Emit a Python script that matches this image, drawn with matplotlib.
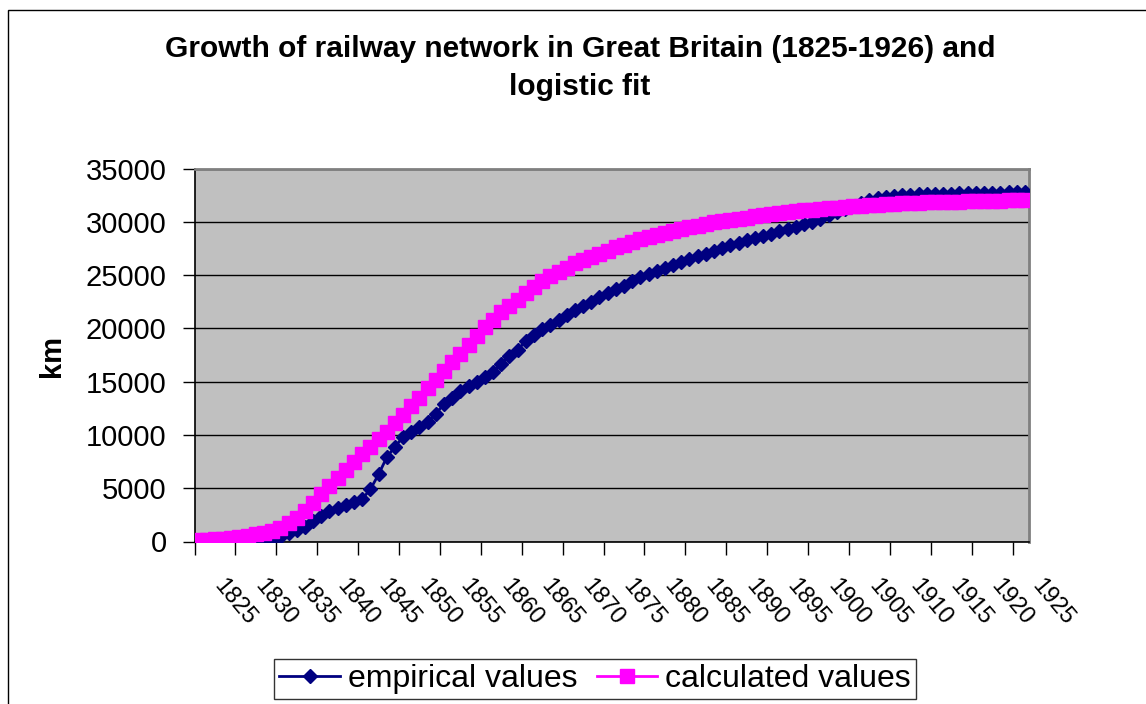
import numpy as np
import matplotlib
matplotlib.use("Agg")
import matplotlib.pyplot as plt
import matplotlib.transforms as mtransforms
from matplotlib.patches import Rectangle

#data (km)
years = list(range(1825, 1927))
empirical = [
    40, 45, 50, 55, 60, 70, 80, 90, 110, 250,          # 1825-1834
    430, 800, 1100, 1400, 1900, 2400, 2850, 3150, 3400, 3700,   # 1835-1844
    4000, 4900, 6300, 7900, 8900, 9800, 10300, 10700, 11200, 12000,  # 1845-1854
    12900, 13500, 14100, 14600, 15000, 15400, 15900, 16700, 17400, 18000,  # 1855-1864
    18800, 19400, 19900, 20300, 20800, 21300, 21700, 22100, 22500, 22900,  # 1865-1874
    23300, 23700, 24000, 24400, 24800, 25100, 25400, 25700, 25950, 26200,  # 1875-1884
    26500, 26750, 27000, 27250, 27500, 27800, 28000, 28250, 28450, 28700,  # 1885-1894
    28900, 29100, 29350, 29550, 29800, 30000, 30300, 30600, 30900, 31200,  # 1895-1904
    31500, 31800, 32000, 32200, 32300, 32400, 32500, 32550, 32600, 32600,  # 1905-1914
    32620, 32640, 32650, 32660, 32680, 32700, 32710, 32720, 32740, 32760,  # 1915-1924
    32780, 32800,                                       # 1925-1926
]
calculated = [
    100, 150, 200, 250, 320, 400, 520, 660, 830, 1030,   # 1825-1834
    1300, 1700, 2200, 2850, 3600, 4450, 5200, 5950, 6700, 7450,  # 1835-1844
    8200, 8900, 9600, 10300, 11100, 11900, 12700, 13500, 14400, 15200,  # 1845-1854
    16000, 16800, 17600, 18400, 19300, 20100, 20800, 21500, 22100, 22700,  # 1855-1864
    23300, 23900, 24400, 24900, 25300, 25700, 26100, 26400, 26700, 27000,  # 1865-1874
    27300, 27600, 27850, 28100, 28350, 28550, 28750, 28950, 29150, 29350,  # 1875-1884
    29500, 29650, 29800, 29950, 30100, 30200, 30300, 30400, 30500, 30600,  # 1885-1894
    30700, 30800, 30900, 30980, 31060, 31140, 31210, 31280, 31340, 31400,  # 1895-1904
    31450, 31500, 31550, 31600, 31640, 31680, 31720, 31750, 31780, 31810,  # 1905-1914
    31840, 31860, 31880, 31900, 31920, 31940, 31955, 31970, 31985, 32000,  # 1915-1924
    32010, 32020,                                       # 1925-1926
]
tick_labels = [str(y) for y in range(1825, 1926, 5)]

W, H = 1146, 704
fig = plt.figure(figsize=(W / 100, H / 100), dpi=100)
plt.rcParams['font.family'] = ['Liberation Sans', 'DejaVu Sans']

#plot area in pixels: left 194.5, right 1029, top 168.5, bottom 541.5
ax = fig.add_axes([194.5 / W, 1 - 541.5 / H, (1029 - 194.5) / W, (541.5 - 168.5) / H])
ax.set_facecolor("#C0C0C0")

x = np.arange(len(years))
ax.plot(x, empirical, color="#000080", lw=2, marker="D", markersize=7.5,
        label="empirical values", zorder=3)
ax.plot(x, calculated, color="#FF00FF", lw=2, marker="s", markersize=10.5,
        label="calculated values", zorder=4)

ax.set_xlim(-0.5, len(years) - 0.5)
ax.set_ylim(0, 35000)
ax.set_yticks(range(0, 35001, 5000))
ax.yaxis.grid(True, color="black", lw=1)
ax.set_axisbelow(True)
ax.tick_params(axis="y", labelsize=21, length=9, width=1, pad=11, direction="out")

#ticks between categories, labels every 5 years
ax.set_xticks(np.arange(-0.5, 100, 5), minor=True)
ax.set_xticks(np.arange(0, 101, 5))
ax.set_xticklabels(tick_labels, rotation=-50, ha="left", va="top", fontsize=17)
ax.tick_params(axis="x", which="major", length=0, pad=24)
ax.tick_params(axis="x", which="minor", length=9, width=1, direction="out")
offset = mtransforms.ScaledTranslation(11 / 100, 0, fig.dpi_scale_trans)
for lab in ax.get_xticklabels():
    lab.set_transform(lab.get_transform() + offset)

for s in ["left", "bottom"]:
    ax.spines[s].set_color("black")
    ax.spines[s].set_linewidth(1.2)
for s in ["top", "right"]:
    ax.spines[s].set_color("#808080")
    ax.spines[s].set_linewidth(2)

fig.text(580 / W, 1 - 35 / H,
         "Growth of railway network in Great Britain (1825-1926) and\nlogistic fit",
         ha="center", va="top", fontsize=21.5, fontweight="bold", linespacing=1.45)
fig.text(52 / W, 1 - 356 / H, "km", rotation=90, ha="center", va="center",
         fontsize=21, fontweight="bold")

leg = fig.legend(loc="center", bbox_to_anchor=(595 / W, 1 - 679 / H), ncol=2,
                 fontsize=23, frameon=True, fancybox=False, edgecolor="black",
                 handlelength=1.9, handletextpad=0.25, columnspacing=0.6,
                 borderpad=0.15, borderaxespad=0)
leg.get_frame().set_linewidth(1)

fig.add_artist(Rectangle((8 / W, -0.1), 1.2, 1.1 - 10 / H, transform=fig.transFigure,
                         fill=False, edgecolor="black", lw=1))

fig.savefig("out.png", dpi=100)
